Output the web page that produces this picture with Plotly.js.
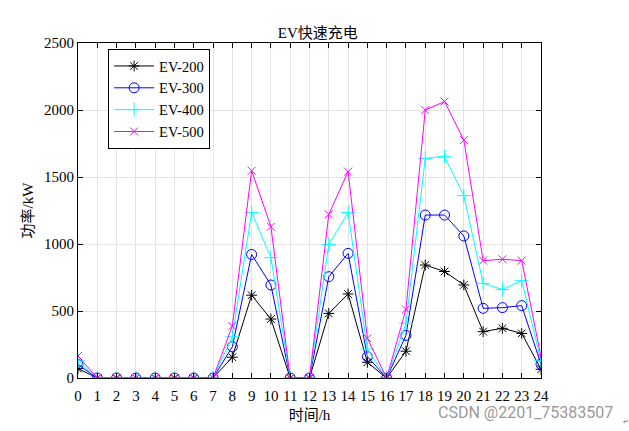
<!DOCTYPE html>
<html>
<head>
<meta charset="utf-8">
<script src="https://cdn.plot.ly/plotly-3.0.1.min.js"></script>
<style>html,body{margin:0;padding:0;background:#fff;}#chart{width:629px;height:431px;}</style>
</head>
<body>
<div id="chart"></div>
<script>
const hours = [0,1,2,3,4,5,6,7,8,9,10,11,12,13,14,15,16,17,18,19,20,21,22,23,24];
const ev200 = [70,0,0,0,0,0,0,0,155,618,440,0,0,482,627,117,0,200,843,795,694,346,371,333,65];
const ev300 = [100,0,0,0,0,0,0,0,233,922,694,0,0,756,930,159,0,318,1216,1216,1060,520,525,540,102];
const ev400 = [127,0,0,0,0,0,0,0,308,1236,898,0,0,997,1236,216,0,408,1639,1652,1361,706,661,726,129];
const ev500 = [164,0,0,0,0,0,0,0,388,1547,1129,0,0,1221,1540,296,0,512,2000,2063,1776,876,886,876,159];
const seriesNames = ['EV-200','EV-300','EV-400','EV-500'];
const xTickLabels = hours.map(String);
const yTicks = [0,500,1000,1500,2000,2500];

const serif = '"Liberation Serif", "Times New Roman", "Noto Sans CJK SC", serif';
const styles = [
  {color:'#000000', symbol:'asterisk-open', size:9},
  {color:'#0000ff', symbol:'circle-open', size:10},
  {color:'#00ffff', symbol:'cross-thin-open', size:10},
  {color:'#ff00ff', symbol:'x-thin-open', size:8}
];
const data = [ev200, ev300, ev400, ev500].map((ys, i) => ({
  x: hours, y: ys, name: seriesNames[i], type: 'scatter', mode: 'lines+markers',
  line: {color: styles[i].color, width: 1},
  marker: {symbol: styles[i].symbol, size: styles[i].size, color: styles[i].color,
           line: {color: styles[i].color, width: 1}}
}));

const layout = {
  width: 629, height: 431,
  margin: {l: 78, r: 88, t: 43, b: 53},
  paper_bgcolor: '#ffffff', plot_bgcolor: '#ffffff',
  font: {family: serif, size: 15, color: '#000'},
  title: {text: 'EV快速充电', x: 0.518, xref: 'paper', y: 1, yref: 'paper', yanchor: 'bottom', pad: {b: 5},
          font: {family: serif, size: 15, color: '#000'}},
  showlegend: true,
  legend: {x: 0.065, y: 0.982, xanchor: 'left', yanchor: 'top',
           bgcolor: '#ffffff', bordercolor: '#000', borderwidth: 1, itemwidth: 40,
           font: {family: serif, size: 14.5, color: '#000'}, tracegroupgap: 0},
  xaxis: {
    range: [0, 24], tickmode: 'array', tickvals: hours, ticktext: xTickLabels,
    showgrid: true, gridcolor: '#e3e3e3', gridwidth: 1,
    zeroline: false, showline: true, linecolor: '#000', linewidth: 1, mirror: 'ticks',
    ticks: 'inside', ticklen: 5, tickcolor: '#000', ticklabelstandoff: 4,
    tickfont: {family: serif, size: 15, color: '#000'},
    title: {text: '时间/h', standoff: 6, font: {family: serif, size: 15, color: '#000'}}
  },
  yaxis: {
    range: [0, 2500], tickmode: 'array', tickvals: yTicks, ticktext: yTicks.map(String),
    showgrid: true, gridcolor: '#e3e3e3', gridwidth: 1,
    zeroline: false, showline: true, linecolor: '#000', linewidth: 1, mirror: 'ticks',
    ticks: 'inside', ticklen: 5, tickcolor: '#000',
    tickfont: {family: serif, size: 15, color: '#000'},
    title: {text: '功率/kW', standoff: 6, font: {family: serif, size: 15, color: '#000'}}
  },
  annotations: [
    {text: 'CSDN @2201_75383507', xref: 'paper', yref: 'paper', x: 1.16, y: -0.104, xanchor: 'right', yanchor: 'middle',
     showarrow: false, font: {family: 'Roboto, "DejaVu Sans", sans-serif', size: 16, color: '#9a9a9a'}},
    {text: '↵', xref: 'paper', yref: 'paper', x: 1.172, y: -0.13, xanchor: 'left', yanchor: 'middle',
     showarrow: false, font: {family: 'DejaVu Sans', size: 7, color: '#666'}}
  ]
};
Plotly.newPlot('chart', data, layout, {displayModeBar: false, staticPlot: true});
</script>
</body>
</html>
